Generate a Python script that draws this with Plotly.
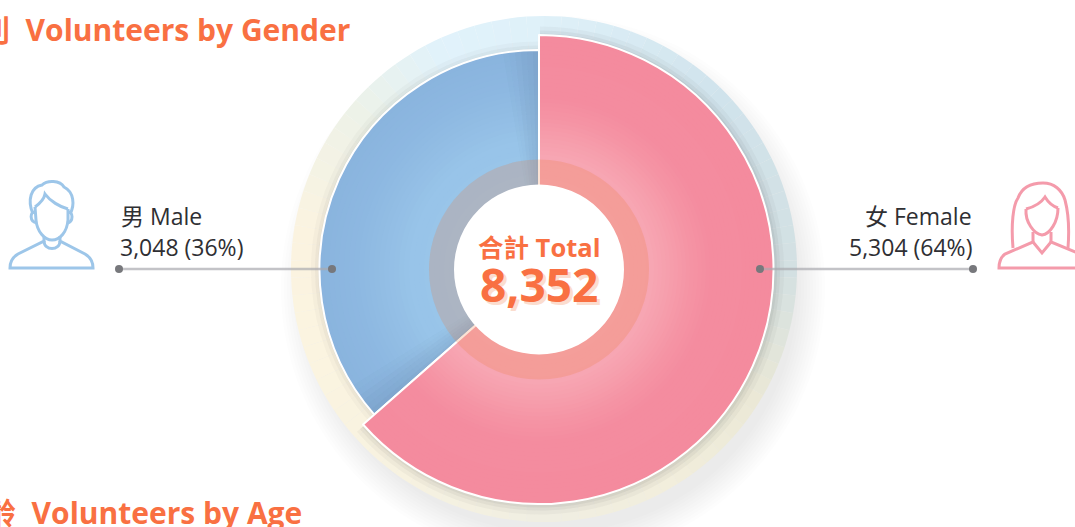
import plotly.graph_objects as go

# ---- data ----
categories = ["女 Female", "男 Male"]
values = [5304, 3048]
value_labels = ["5,304 (64%)", "3,048 (36%)"]
total_label = "合計 Total"
total_value = "8,352"
title_gender = "性別  Volunteers by Gender"
title_age = "年齡  Volunteers by Age"

W, H = 1075, 527
CX, CY = 539, 269.5
R_F, R_M, R_RING, R_HOLE = 234.5, 219.5, 110, 85
ORANGE = "#F97042"
CLEAR = "rgba(0,0,0,0)"
CJK = "'Open Sans','Noto Sans CJK TC',sans-serif"

female_stops = [(235, "#F48B9E"), (175, "#F48C9F"), (155, "#F593A4"), (135, "#F69DAB"), (115, "#F7A6B3"), (85, "#F7A8B5")]
male_stops = [(220, "#8AB4DE"), (185, "#8DB8E1"), (160, "#92BDE4"), (130, "#98C4E9"), (85, "#9AC6EA")]
halo_stops = [(0, "#DFF1F9"), (45, "#D0E3EC"), (90, "#D3E0E2"), (120, "#EAE8D6"), (150, "#F2EEDC"), (180, "#F0EEE2"),
              (215, "#F7F2E0"), (250, "#FBF4E0"), (280, "#FBF3E0"), (310, "#EDF2E8"), (335, "#E1F2FB"), (360, "#DFF1F9")]


def hx(c):
    return [int(c[i:i + 2], 16) for i in (1, 3, 5)]


def mix(a, b, t):
    return "rgb(%d,%d,%d)" % tuple(round(x + (y - x) * t) for x, y in zip(hx(a), hx(b)))


def dom(r, cx=CX, cy=CY):
    return dict(x=[(cx - r) / W, (cx + r) / W], y=[1 - (cy + r) / H, 1 - (cy - r) / H])


def pie(vals, colors, r, cx=CX, cy=CY, hole=0, lines=None, lw=0):
    return go.Pie(values=vals, sort=False, direction="clockwise", rotation=0, textinfo="none", hoverinfo="skip",
                  hole=hole, domain=dom(r, cx, cy), showlegend=False,
                  marker=dict(colors=colors, line=dict(color=lines or CLEAR, width=lw)))


def bands(stops, step):
    out = []
    for (r0, c0), (r1, c1) in zip(stops, stops[1:]):
        r = r0
        while r > r1:
            out.append((r, mix(c0, c1, (r0 - r) / (r0 - r1))))
            r -= step
    return out


fig = go.Figure()
# hidden axes give pixel coordinates for labels and the connector lines
fig.add_trace(go.Scatter(x=[0], y=[0], mode="markers", marker=dict(opacity=0), hoverinfo="skip", showlegend=False))

# halo with an angular colour sweep
n = 90
halo_cols = []
for i in range(n):
    a = (i + .5) * 360 / n
    for (a0, c0), (a1, c1) in zip(halo_stops, halo_stops[1:]):
        if a0 <= a <= a1:
            halo_cols.append(mix(c0, c1, (a - a0) / (a1 - a0)))
            break
fig.add_trace(pie([1] * n, halo_cols, 253, cx=544, cy=269))
# soft shadow of the slices on the halo
for r, al in [(244, .05), (240, .07), (237, .08)]:
    fig.add_trace(pie(values, [f"rgba(95,105,105,{al})", CLEAR], r, cx=CX + 1, cy=CY + 1))
for r, al in [(228, .04), (224, .05), (221, .06)]:
    fig.add_trace(pie(values, [CLEAR, f"rgba(95,105,105,{al})"], r, cx=CX, cy=CY))

# male slice
for r, c in bands(male_stops, 5):
    fig.add_trace(pie(values, [CLEAR, c], min(r, R_M)))
# darker towards both cut edges of the male slice
m = values[1]
wedge = [m * .012] * 6
mid = m - 2 * sum(wedge)
wedge_vals = [values[0]] + wedge + [mid] + wedge
alph = [.16, .13, .10, .07, .04, .02]
wedge_cols = [CLEAR] + [f"rgba(70,90,120,{a})" for a in alph] + [CLEAR] + [f"rgba(70,90,120,{a})" for a in alph[::-1]]
fig.add_trace(pie(wedge_vals, wedge_cols, R_M))
fig.add_trace(pie(values, [CLEAR, CLEAR], R_M, lines=[CLEAR, "white"], lw=2))

# female slice
for r, c in bands(female_stops, 4):
    fig.add_trace(pie(values, [c, CLEAR], min(r, R_F)))
fig.add_trace(pie(values, [CLEAR, CLEAR], R_F, lines=["white", CLEAR], lw=2))

# centre ring and hole
fig.add_trace(pie([sum(values)], ["rgba(235,125,60,0.22)"], R_RING))
fig.add_trace(pie([sum(values)], ["white"], R_HOLE))

# shapes
shapes = []
for i in range(10):
    r = 272 - i * 3
    shapes.append(dict(type="circle", xref="x", yref="y", x0=553 - r, x1=553 + r, y0=288 - r, y1=288 + r,
                       layer="below", line_width=0, fillcolor="rgba(128,128,128,0.016)"))
LINE_Y = 269
for x0, x1 in [(119, 332), (760, 973)]:
    shapes.append(dict(type="line", xref="x", yref="y", x0=x0, x1=x1, y0=LINE_Y, y1=LINE_Y, layer="above",
                       line=dict(color="rgba(170,170,175,0.7)", width=2.5)))
    for x in (x0, x1):
        shapes.append(dict(type="circle", xref="x", yref="y", x0=x - 4, x1=x + 4, y0=LINE_Y - 4, y1=LINE_Y + 4,
                           layer="above", line_width=0, fillcolor="#77787C"))

male_icon = [
    "M33,214 C27,200 31,187 42,185 C47,180 60,180 64,187 C74,192 75,205 70,214",
    "M35,207 C39,204 44,200 45,194 C50,201 60,207 68,209",
    "M35,207 L36,220 C37,232 45,240 52,240 C60,240 67,232 68,220 L68,209",
    "M35,212 C30,211 29,222 37,223",
    "M68,212 C73,211 74,222 67,223",
    "M44,236 L44,241 L18,254 C13,257 10,262 10,268 L93,268 C93,262 90,257 85,254 L60,241 L60,236",
    "M44,241 C44,251 60,251 60,241",
]
female_icon = [
    "M1013,248 C1011,225 1013,205 1018,198 C1022,187 1032,183 1043,183 C1054,183 1062,190 1065,200 C1069,215 1069,235 1068,248",
    "M1026,209 C1034,207 1041,203 1045,197 C1048,202 1052,206 1058,208",
    "M1026,209 C1025,222 1034,234 1042,235 C1050,234 1058,222 1058,208",
    "M1033,232 L1033,242 L1005,254 C1001,257 999,262 999,268 L1090,268 C1090,262 1086,257 1080,254 L1051,242 L1051,232",
    "M1033,242 L1042,253 L1051,242",
]
for p in male_icon:
    shapes.append(dict(type="path", xref="x", yref="y", path=p, layer="above", line=dict(color="#9DC6E9", width=3)))
for p in female_icon:
    shapes.append(dict(type="path", xref="x", yref="y", path=p, layer="above", line=dict(color="#F49BAB", width=3)))


def label(x, y, text, anchor, size, color="#2F2F33", bold=False, shadow=None):
    font = dict(family=CJK, size=size, color=color, weight=700 if bold else 400)
    if shadow:
        font["shadow"] = shadow
    return dict(x=x, y=y, xref="x", yref="y", text=text, showarrow=False, xanchor=anchor, yanchor="middle", font=font)


annotations = [
    label(352, 29.5, title_gender, "right", 30, ORANGE, True),
    label(304, 512.5, title_age, "right", 30, ORANGE, True),
    label(119, 216, categories[1], "left", 23),
    label(118, 247, value_labels[1], "left", 23),
    label(974, 216, categories[0], "right", 23),
    label(974, 247, value_labels[0], "right", 23),
    label(539, 247, total_label, "center", 25.5, ORANGE, True),
    label(539, 284, total_value, "center", 46, ORANGE, True, shadow="3px 3px 0 #FBDDCF"),
]

fig.update_layout(
    width=W, height=H, margin=dict(l=0, r=0, t=0, b=0), paper_bgcolor="white", plot_bgcolor="white",
    showlegend=False, shapes=shapes, annotations=annotations,
    xaxis=dict(range=[0, W], visible=False, fixedrange=True),
    yaxis=dict(range=[H, 0], visible=False, fixedrange=True),
)
fig.write_html("out.html", config=dict(displayModeBar=False),
               post_script="document.body.style.margin='0';document.body.style.overflow='hidden';")
